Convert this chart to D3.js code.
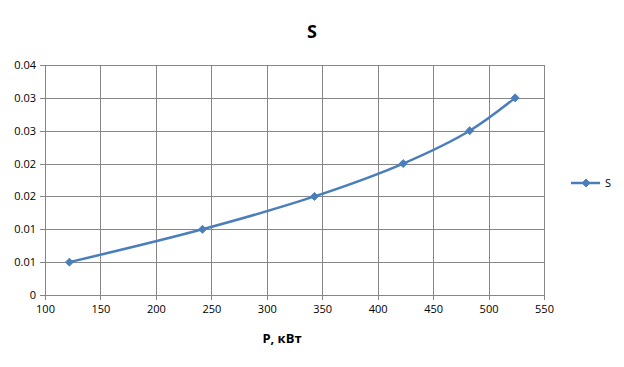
<!DOCTYPE html>
<html>
<head>
<meta charset="utf-8">
<script src="https://cdn.jsdelivr.net/npm/d3@7"></script>
<style>
  body { margin:0; background:#fff; }
  text { font-family: "Open Sans", "Liberation Sans", sans-serif; }
</style>
</head>
<body>
<svg id="chart" width="624" height="367"></svg>
<script>
const powerValues=[122, 242, 343, 423, 483, 524];
const sValues=[0.005, 0.01, 0.015, 0.02, 0.025, 0.03];
const xTicks=[100, 150, 200, 250, 300, 350, 400, 450, 500, 550];
const yTicks=[0, 0.005, 0.01, 0.015, 0.02, 0.025, 0.03, 0.035];
const yTickLabels=["0", "0.01", "0.01", "0.02", "0.02", "0.03", "0.03", "0.04"];
const seriesName="S";

const svg=d3.select("#chart");
const plotLeft=45, plotRight=544, plotTop=65, plotBottom=295;
const gridColor="#878787";
const lineColor="#4a7ebb";

const x=d3.scaleLinear().domain([100, 550]).range([plotLeft, plotRight]);
const y=d3.scaleLinear().domain([0, 0.035]).range([plotBottom, plotTop]);

// grid
const grid=svg.append("g").attr("stroke", gridColor).attr("stroke-width", 1);
xTicks.forEach(t=>{
    grid.append("line")
        .attr("x1", Math.round(x(t))+0.5).attr("x2", Math.round(x(t))+0.5)
        .attr("y1", plotTop).attr("y2", plotBottom+5);
});
yTicks.forEach(t=>{
    grid.append("line")
        .attr("x1", plotLeft-5).attr("x2", plotRight)
        .attr("y1", Math.round(y(t))+0.5).attr("y2", Math.round(y(t))+0.5);
});

// axes labels
const xAxis=d3.axisBottom(x).tickValues(xTicks).tickSize(0).tickPadding(10);
svg.append("g").attr("transform", `translate(0,${plotBottom})`).call(xAxis)
    .call(g=>g.select(".domain").remove())
    .call(g=>g.selectAll("text").attr("font-size", 11).attr("fill", "#000")
        .attr("font-family", "'Open Sans', sans-serif"));

const yAxis=d3.axisLeft(y).tickValues(yTicks).tickSize(0).tickPadding(9)
    .tickFormat((d,i)=>yTickLabels[i]);
svg.append("g").attr("transform", `translate(${plotLeft},0)`).call(yAxis)
    .call(g=>g.select(".domain").remove())
    .call(g=>g.selectAll("text").attr("font-size", 11).attr("fill", "#000")
        .attr("font-family", "'Open Sans', sans-serif"));

// series
const points=powerValues.map((p,i)=>[p, sValues[i]]);
const line=d3.line().x(d=>x(d[0])).y(d=>y(d[1])).curve(d3.curveCatmullRom.alpha(0.5));
svg.append("path").datum(points)
    .attr("d", line).attr("fill", "none")
    .attr("stroke", lineColor).attr("stroke-width", 2.5);

const diamond=d3.symbol().type(d3.symbolDiamond2).size(40);
svg.append("g").selectAll("path").data(points).join("path")
    .attr("d", diamond)
    .attr("transform", d=>`translate(${x(d[0])},${y(d[1])})`)
    .attr("fill", lineColor).attr("stroke", lineColor);

// title
svg.append("text").attr("x", 312).attr("y", 38)
    .attr("text-anchor", "middle").attr("font-size", 18).attr("font-weight", "bold")
    .text(seriesName);

// x title
svg.append("text").attr("x", 282).attr("y", 343)
    .attr("text-anchor", "middle").attr("font-size", 13).attr("font-weight", "bold")
    .text("P, кВт");

// legend
const legend=svg.append("g").attr("transform", "translate(571,183)");
legend.append("line").attr("x1", 0).attr("x2", 29).attr("y1", 0).attr("y2", 0)
    .attr("stroke", lineColor).attr("stroke-width", 2.5);
legend.append("path").attr("d", diamond).attr("transform", "translate(15,0)")
    .attr("fill", lineColor).attr("stroke", lineColor);
legend.append("text").attr("x", 34).attr("y", 4).attr("font-size", 11)
    .text(seriesName);
</script>
</body>
</html>
